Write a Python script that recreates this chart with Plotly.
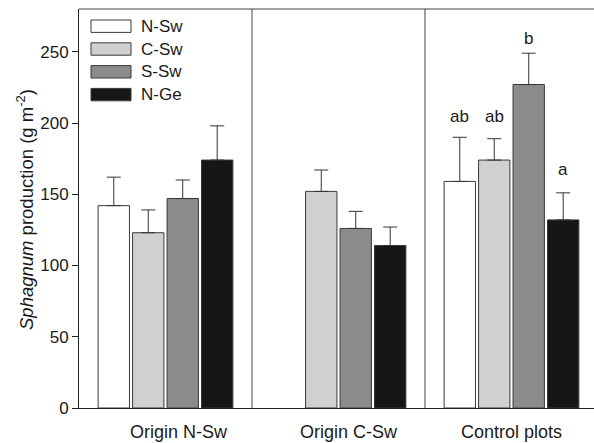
import plotly.graph_objects as go

# ---------------- data ----------------
groups = ["Origin N-Sw", "Origin C-Sw", "Control plots"]
series_names = ["N-Sw", "C-Sw", "S-Sw", "N-Ge"]

n_sw = [142, None, 159]
n_sw_err = [20, None, 31]
c_sw = [123, 152, 174]
c_sw_err = [16, 15, 15]
s_sw = [147, 126, 227]
s_sw_err = [13, 12, 22]
n_ge = [174, 114, 132]
n_ge_err = [24, 13, 19]

control_letters = ["ab", "ab", "b", "a"]
y_tick_vals = [0, 50, 100, 150, 200, 250]

# ---------------- style ----------------
W, H = 594, 443
ML, MR, MT, MB = 79, 0, 9, 35
PW, PH = W - ML - MR, H - MT - MB
FONT = "Liberation Sans, Arial, Helvetica, sans-serif"
TXT = "#1a1a1a"
fills = ["#ffffff", "#d0d0d0", "#8b8b8b", "#161616"]
outline = "#3a3a3a"
BARGAP = 0.203
BARGROUPGAP = 0.09
X_RANGE = [-0.5, 2.477]
Y_RANGE = [0, 280]


def px_x(px):
    return (px - ML) / PW


def px_y(py):
    return 1 - (py - MT) / PH


vals = [n_sw, c_sw, s_sw, n_ge]
errs = [n_sw_err, c_sw_err, s_sw_err, n_ge_err]
xs = list(range(len(groups)))

fig = go.Figure()
for name, v, e, col in zip(series_names, vals, errs, fills):
    fig.add_trace(go.Bar(
        x=xs, y=v, name=name,
        marker=dict(color=col, line=dict(color=outline, width=1)),
        error_y=dict(type="data", array=e, arrayminus=[0 if a is not None else None for a in e],
                     symmetric=False, color="#333333", thickness=1, width=7),
        showlegend=False, hoverinfo="skip",
    ))

shapes = []
annotations = []

# panel separators and top frame line
for i in range(len(groups) - 1):
    shapes.append(dict(type="line", xref="x", yref="paper", x0=i + 0.5, x1=i + 0.5,
                       y0=0, y1=1, line=dict(color="#444444", width=1)))
shapes.append(dict(type="line", xref="paper", yref="paper", x0=0, x1=1, y0=1, y1=1,
                   line=dict(color="#444444", width=1)))

# custom legend (wide boxes)
for k, (name, col) in enumerate(zip(series_names, fills)):
    cy = 26.2 + 22.8 * k
    shapes.append(dict(type="rect", xref="paper", yref="paper",
                       x0=px_x(91), x1=px_x(131), y0=px_y(cy + 6.2), y1=px_y(cy - 6.2),
                       fillcolor=col, line=dict(color=outline, width=1)))
    annotations.append(dict(xref="paper", yref="paper", x=px_x(139), y=px_y(cy),
                            xanchor="left", yanchor="middle", text=name, showarrow=False,
                            font=dict(family=FONT, size=17, color=TXT)))

# group labels
label_shift = [13, 11, 0]
for i, g in enumerate(groups):
    annotations.append(dict(xref="x", yref="paper", x=i, y=px_y(431.5), xshift=label_shift[i],
                            xanchor="center", yanchor="middle", text=g, showarrow=False,
                            font=dict(family=FONT, size=18, color=TXT)))

# significance letters for control plots
pitch = (1 - BARGAP) / len(series_names)
letter_shift = [9, 11, 3, 12]
gi = len(groups) - 1
for k, letter in enumerate(control_letters):
    top = vals[k][gi] + errs[k][gi]
    annotations.append(dict(xref="x", yref="y", x=gi + (k - 1.5) * pitch, y=top,
                            yshift=letter_shift[k], xanchor="center", yanchor="bottom",
                            text=letter, showarrow=False,
                            font=dict(family=FONT, size=17, color=TXT)))

# y-axis title
annotations.append(dict(xref="paper", yref="paper", x=px_x(25), y=px_y(210), textangle=-90,
                        xanchor="center", yanchor="middle", showarrow=False,
                        text="<i>Sphagnum</i> production (g m<sup>-2</sup>)",
                        font=dict(family=FONT, size=18.5, color=TXT)))

fig.update_layout(
    width=W, height=H,
    margin=dict(l=ML, r=MR, t=MT, b=MB, pad=0),
    paper_bgcolor="white", plot_bgcolor="white",
    barmode="group", bargap=BARGAP, bargroupgap=BARGROUPGAP,
    shapes=shapes, annotations=annotations,
    showlegend=False,
    font=dict(family=FONT, color=TXT),
)
fig.update_xaxes(range=X_RANGE, showticklabels=False, ticks="", showgrid=False,
                 zeroline=False, showline=True, linecolor="#222222", linewidth=1,
                 automargin=False)
fig.update_yaxes(range=Y_RANGE, tickvals=y_tick_vals, ticks="outside", ticklen=6,
                 tickcolor="#222222", showgrid=False, zeroline=False, showline=True,
                 linecolor="#222222", linewidth=1, automargin=False,
                 tickfont=dict(family=FONT, size=17, color=TXT))

fig.write_html("out.html", config={"displayModeBar": False},
               post_script="document.body.style.margin='0px';document.body.style.overflow='hidden';")
